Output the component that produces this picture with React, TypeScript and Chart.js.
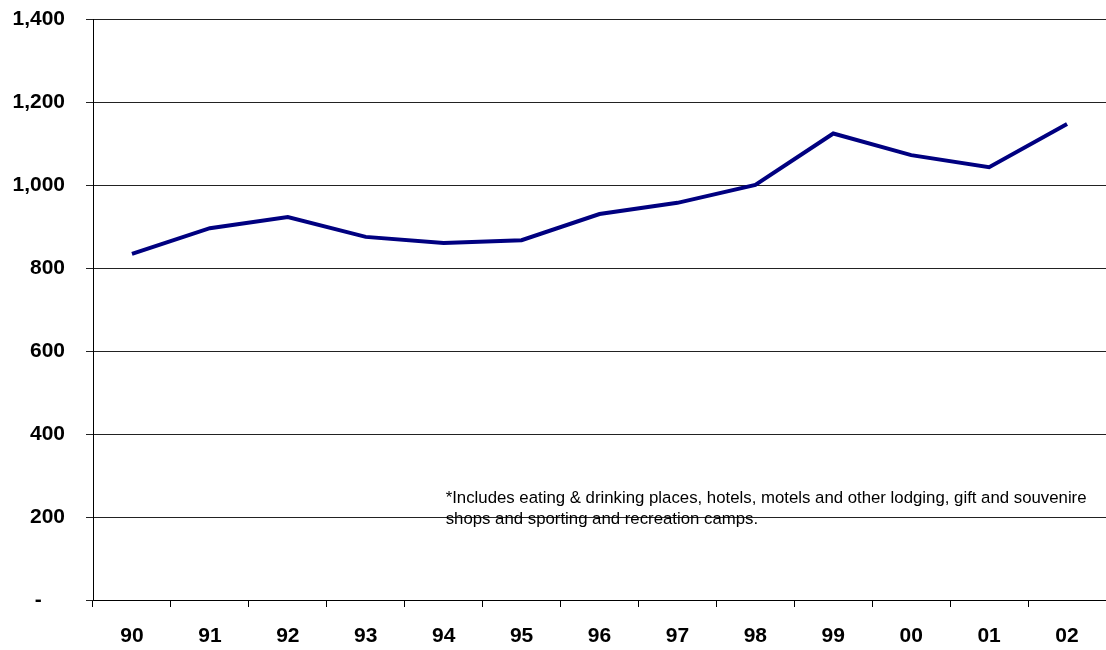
import React, { useEffect, useRef } from "react";
import { Chart, registerables } from "chart.js";

Chart.register(...registerables);

const years = ["90", "91", "92", "93", "94", "95", "96", "97", "98", "99", "00", "01", "02"];
const values = [834, 896, 923, 875, 860, 867, 930, 957, 1000, 1124, 1072, 1043, 1147];
const yTicks = [0, 200, 400, 600, 800, 1000, 1200, 1400];
const noteLines = [
  "*Includes eating & drinking places, hotels, motels and other lodging, gift and souvenire",
  "shops and sporting and recreation camps.",
];

const notePlugin = {
  id: "note",
  afterDraw(chart: any) {
    const { ctx, scales } = chart;
    const x = scales.x.getPixelForValue(4) + 2;
    const y0 = scales.y.getPixelForValue(245);
    ctx.save();
    ctx.fillStyle = "#000";
    ctx.font = "16.8px 'Liberation Sans', Arial, sans-serif";
    ctx.textBaseline = "middle";
    ctx.textAlign = "left";
    noteLines.forEach((l, i) => ctx.fillText(l, x, y0 + i * 21));
    ctx.restore();
  },
};

export default function App() {
  const ref = useRef<HTMLCanvasElement>(null);
  useEffect(() => {
    if (!ref.current) return;
    const chart = new Chart(ref.current, {
      type: "line",
      data: {
        labels: years,
        datasets: [
          {
            data: values,
            borderColor: "#000080",
            borderWidth: 4,
            pointRadius: 0,
            tension: 0,
            fill: false,
          },
        ],
      },
      options: {
        animation: false,
        responsive: false,
        devicePixelRatio: 1,
        layout: { padding: 0 },
        plugins: { legend: { display: false }, tooltip: { enabled: false } },
        scales: {
          x: {
            offset: true,
            grid: {
              offset: true,
              drawOnChartArea: false,
              drawTicks: true,
              tickLength: 7,
              color: "#000",
            },
            border: { display: true, color: "#000", width: 1 },
            ticks: {
              color: "#000",
              padding: 17,
              maxRotation: 0,
              font: { family: "'Liberation Sans', Arial, sans-serif", size: 21, weight: "bold" },
            },
            afterFit(scale: any) {
              scale.height = 50;
              scale.paddingLeft = 0;
              scale.paddingRight = 0;
            },
          },
          y: {
            min: 0,
            max: 1400,
            afterBuildTicks(scale: any) {
              scale.ticks = yTicks.map((v) => ({ value: v }));
            },
            grid: { color: "#222", lineWidth: 1, tickLength: 7, drawTicks: true },
            border: { display: true, color: "#000", width: 1 },
            ticks: {
              color: "#000",
              padding: 21,
              font: { family: "'Liberation Sans', Arial, sans-serif", size: 21, weight: "bold" },
              callback: (v: any) => (Number(v) === 0 ? "-    " : Number(v).toLocaleString("en-US")),
            },
            afterFit(scale: any) {
              scale.width = 93;
              scale.paddingTop = 19;
              scale.paddingBottom = 0;
            },
          },
        },
      },
      plugins: [notePlugin],
    });
    return () => chart.destroy();
  }, []);
  return (
    <div style={{ position: "fixed", left: 0, top: 0, width: 1106, height: 650, background: "#fff" }}>
      <canvas ref={ref} width={1106} height={650} style={{ width: 1106, height: 650 }} />
    </div>
  );
}
